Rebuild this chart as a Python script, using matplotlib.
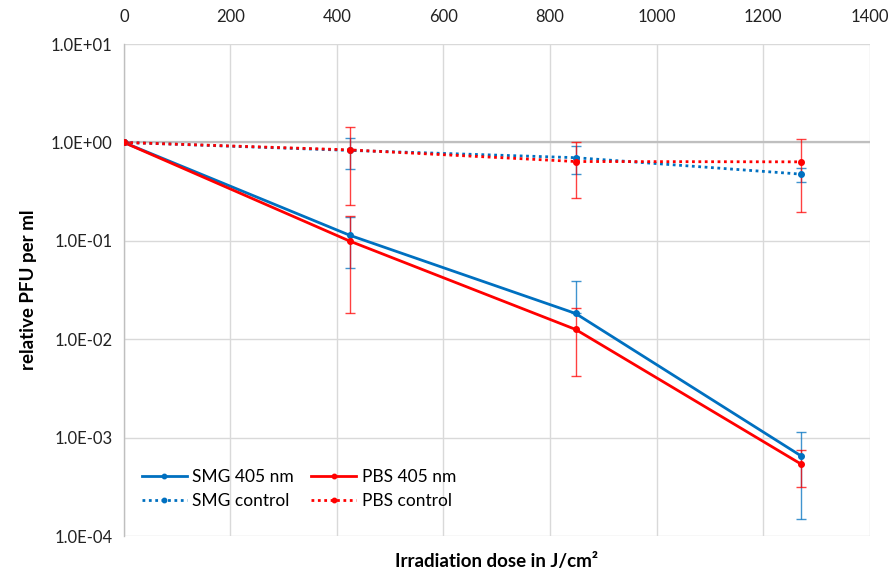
import numpy as np
import matplotlib.pyplot as plt
from matplotlib.ticker import FixedLocator, FixedFormatter, NullLocator

plt.rcParams['font.family'] = ['Lato', 'DejaVu Sans']

# irradiation doses (J/cm2)
dose = [0, 424, 848, 1272]

# relative PFU per ml and errors
smg_405 = [1.0, 0.114, 0.0183, 0.00065]
smg_405_err = [0.0, 0.061, 0.0205, 0.0005]
pbs_405 = [1.0, 0.0995, 0.0126, 0.000537]
pbs_405_err = [0.0, 0.081, 0.0084, 0.00022]
smg_ctrl = [1.0, 0.83, 0.70, 0.476]
smg_ctrl_err = [0.0, 0.29, 0.22, 0.08]
pbs_ctrl = [1.0, 0.84, 0.64, 0.635]
pbs_ctrl_err = [0.0, 0.61, 0.37, 0.44]

blue = '#0070C0'
red = '#FF0000'

fig = plt.figure(figsize=(8.91, 5.79), dpi=100)
ax = fig.add_axes([0.139, 0.074, 0.837, 0.850])

handles = {}


def draw(y, err, color, ls, label):
    y = np.array(y)
    err = np.array(err)
    # lower bar cannot go below zero on a log axis
    lower = np.where(err >= y, 0.0, err)
    ax.errorbar(dose, y, yerr=[lower, err], fmt='none', ecolor=color,
                elinewidth=1.0, capsize=3.5, capthick=1.0, alpha=0.75, zorder=3)
    line, = ax.plot(dose, y, color=color, ls=ls, lw=2.0, marker='o', markersize=4,
                    label=label, zorder=4)
    handles[label] = line


draw(smg_405, smg_405_err, blue, '-', 'SMG 405 nm')
draw(pbs_405, pbs_405_err, red, '-', 'PBS 405 nm')
draw(smg_ctrl, smg_ctrl_err, blue, (0, (1, 1.3)), 'SMG control')
draw(pbs_ctrl, pbs_ctrl_err, red, (0, (1, 1.3)), 'PBS control')

ax.set_yscale('log')
ax.set_ylim(1e-4, 1e1)
ax.set_xlim(0, 1400)

yticks = [1e-4, 1e-3, 1e-2, 1e-1, 1e0, 1e1]
ax.yaxis.set_major_locator(FixedLocator(yticks))
ax.yaxis.set_major_formatter(FixedFormatter(['1.0E-04', '1.0E-03', '1.0E-02',
                                             '1.0E-01', '1.0E+00', '1.0E+01']))
ax.yaxis.set_minor_locator(NullLocator())
ax.set_xticks(range(0, 1401, 200))

ax.xaxis.tick_top()
ax.tick_params(axis='both', length=0, labelsize=12, colors='#222222')
ax.tick_params(axis='x', pad=14)
ax.tick_params(axis='y', pad=8)

ax.grid(True, color='#d9d9d9', lw=1.0)
ax.axhline(1.0, color='#bfbfbf', lw=1.6, zorder=2)
for s in ['top', 'right', 'bottom']:
    ax.spines[s].set_visible(False)
ax.spines['left'].set_color('#bfbfbf')
ax.spines['left'].set_linewidth(1.0)

ax.set_ylabel('relative PFU per ml', fontsize=13.5, fontweight='bold', labelpad=10)
ax.set_xlabel('Irradiation dose in J/cm\u00b2', fontsize=13.5, fontweight='bold', labelpad=12)

order = ['SMG 405 nm', 'SMG control', 'PBS 405 nm', 'PBS control']
ax.legend([handles[k] for k in order], order, loc='lower left',
          bbox_to_anchor=(0.003, 0.024), ncol=2, frameon=False,
          fontsize=12.5, handlelength=2.6, columnspacing=1.0, labelspacing=0.45,
          handletextpad=0.3, markerscale=0.8)

fig.savefig('out.png', dpi=100)
